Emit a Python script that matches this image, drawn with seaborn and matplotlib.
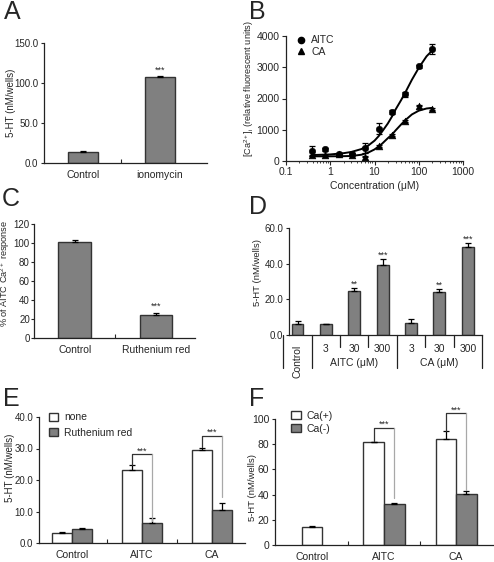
import numpy as np
import pandas as pd
import seaborn as sns
import matplotlib.pyplot as plt
import matplotlib.transforms as mtransforms
from matplotlib.patches import Patch
from matplotlib.lines import Line2D
from matplotlib.ticker import FormatStrFormatter, FixedLocator, NullFormatter, LogLocator

sns.set_style('ticks')
plt.rcParams['font.family'] = ['Liberation Sans', 'DejaVu Sans']
plt.rcParams['mathtext.fontset'] = 'custom'
plt.rcParams['mathtext.rm'] = 'Liberation Sans'
plt.rcParams['mathtext.it'] = 'Liberation Sans:italic'
plt.rcParams['axes.linewidth'] = 0.9
plt.rcParams['axes.edgecolor'] = '#222222'

GREY = '#808080'
EDGE = '#333333'

# ---------------- data ----------------
# A: 5-HT release, ionomycin
a_groups = ['Control', 'ionomycin']
a_vals = [13.8, 107.5]
a_err = [1.6, 1.2]
a_stars = ['', '***']

# B: Ca2+ dose response
b_conc = [0.39, 0.78, 1.56, 3.125, 6.25, 12.5, 25, 50, 100, 200]
b_aitc = [320, 375, 215, 215, 430, 1040, 1580, 2130, 3030, 3580]
b_aitc_err = [160, 40, 30, 30, 160, 190, 60, 80, 40, 160]
b_ca = [185, 185, 215, 195, 140, 485, 830, 1290, 1775, 1665]
b_ca_err = [20, 20, 20, 20, 20, 30, 30, 30, 30, 30]
b_fit_conc = [0.39, 1, 2, 3, 5, 7, 10, 12.5, 15, 20, 25, 30, 40, 50, 70, 100, 150, 200]
b_fit_aitc = [190, 210, 250, 290, 380, 480, 650, 800, 950, 1200, 1430, 1650, 1950, 2200, 2600, 2980, 3350, 3530]
b_fit_ca = [150, 150, 155, 160, 200, 260, 370, 470, 560, 730, 850, 980, 1170, 1310, 1490, 1610, 1680, 1700]

# C: ruthenium red on AITC Ca2+ response
c_groups = ['Control', 'Ruthenium red']
c_vals = [101.0, 24.7]
c_err = [2.4, 2.1]
c_stars = ['', '***']

# D: 5-HT release, AITC / CA doses
d_keys = ['Control', 'AITC 3', 'AITC 30', 'AITC 300', 'CA 3', 'CA 30', 'CA 300']
d_dose_labels = ['', '3', '30', '300', '3', '30', '300']
d_vals = [6.4, 6.0, 24.8, 39.5, 6.6, 23.9, 49.6]
d_err = [1.5, 0.4, 1.5, 3.2, 2.6, 1.9, 1.9]
d_stars = ['', '', '**', '***', '', '**', '***']
d_group_names = ['AITC (\u03bcM)', 'CA (\u03bcM)']

# E: ruthenium red on 5-HT release
e_groups = ['Control', 'AITC', 'CA']
e_levels = ['none', 'Ruthenium red']
e_none = [3.2, 23.2, 29.6]
e_none_err = [0.3, 1.5, 0.7]
e_rr = [4.3, 6.5, 10.6]
e_rr_err = [0.6, 1.3, 2.0]
e_brk_top = [28.2, 34.0]
e_brk_left_end = [24.8, 30.4]
e_brk_right_end = [7.0, 14.6]

# F: extracellular Ca2+ dependence
f_groups = ['Control', 'AITC', 'CA']
f_levels = ['Ca(+)', 'Ca(-)']
f_plus = [14.3, 81.5, 83.9]
f_plus_err = [0.5, 0.6, 6.6]
f_minus = [np.nan, 32.8, 40.5]
f_minus_err = [np.nan, 0.4, 2.4]
f_brk_top = [93.1, 104.5]
f_brk_left_end = [82.2, 90.6]
f_brk_right_end = [37.0, 43.7]

# ---------------- layout helpers ----------------
W, H = 494, 562
fig = plt.figure(figsize=(W / 100, H / 100), dpi=100)


def px_rect(left, right, top, bottom):
    return [left / W, 1 - bottom / H, (right - left) / W, (bottom - top) / H]


def letter(x, y, s):
    fig.text(x / W, 1 - y / H, s, fontsize=18, ha='left', va='top')


def up_errors(ax, xs, ys, errs, capsize=2.2):
    ax.errorbar(xs, ys, yerr=[np.zeros(len(errs)), errs], fmt='none', ecolor='black',
                elinewidth=0.9, capsize=capsize, capthick=0.9, zorder=4)


def centers(bars):
    return [b.get_x() + b.get_width() / 2 for b in bars]


def style_bar_axes(ax, yticks, yfmt, ylabel, lab_x, lab_y, lab_size=7):
    sns.despine(ax=ax)
    ax.set_ylim(yticks[0], yticks[-1])
    ax.set_yticks(yticks)
    ax.yaxis.set_major_formatter(FormatStrFormatter(yfmt))
    ax.tick_params(axis='y', labelsize=7, length=2.5, width=0.8, pad=1.5, direction='out')
    ax.tick_params(axis='x', which='major', length=0, labelsize=7.5, pad=5)
    ax.tick_params(axis='x', which='minor', length=3, width=0.8, direction='in')
    ax.set_xlabel('')
    ax.set_ylabel(ylabel, fontsize=lab_size)
    ax.yaxis.set_label_coords(lab_x, lab_y)


def stars(ax, xs, tops, labels, dy=2.5):
    for x, t, s in zip(xs, tops, labels):
        if s:
            ax.annotate(s, xy=(x, t), xytext=(0, dy), textcoords='offset points',
                        ha='center', va='baseline', fontsize=6.5)


def bracket(ax, xl, xr, top, left_end, right_end):
    ax.plot([xl, xl, xr], [left_end, top, top], color='#333333', lw=0.9, clip_on=False, zorder=5)
    ax.plot([xr, xr], [top, right_end], color='#a8a8a8', lw=0.9, clip_on=False, zorder=5)
    ax.annotate('***', xy=((xl + xr) / 2, top), xytext=(0, 0.5), textcoords='offset points',
                ha='center', va='baseline', fontsize=6.5, annotation_clip=False)


# ---------------- A ----------------
axA = fig.add_axes(px_rect(44, 207, 43, 163))
dfA = pd.DataFrame({'group': a_groups, 'value': a_vals})
sns.barplot(data=dfA, x='group', y='value', color=GREY, saturation=1, width=0.4,
            edgecolor=EDGE, linewidth=1, errorbar=None, ax=axA)
barsA = axA.containers[0]
up_errors(axA, centers(barsA), a_vals, a_err)
stars(axA, centers(barsA), np.add(a_vals, a_err), a_stars)
axA.set_xlim(-0.506, 1.61)
axA.set_xticks([0.5], minor=True)
style_bar_axes(axA, [0, 50, 100, 150], '%.1f', '5-HT (nM/wells)', -0.17, 0.5)
letter(4, 0, 'A')

# ---------------- B ----------------
axB = fig.add_axes(px_rect(286, 463, 36, 161))
sns.lineplot(x=b_fit_conc, y=b_fit_aitc, color='black', lw=1.4, ax=axB, sort=True, errorbar=None)
sns.lineplot(x=b_fit_conc, y=b_fit_ca, color='black', lw=1.4, ax=axB, sort=True, errorbar=None)
axB.errorbar(b_conc, b_aitc, yerr=b_aitc_err, fmt='none', ecolor='black', elinewidth=0.9,
             capsize=2, capthick=0.9, zorder=3)
axB.errorbar(b_conc, b_ca, yerr=b_ca_err, fmt='none', ecolor='black', elinewidth=0.9,
             capsize=2, capthick=0.9, zorder=3)
sns.scatterplot(x=b_conc, y=b_aitc, marker='o', color='black', s=22, edgecolor='black', ax=axB, zorder=4)
sns.scatterplot(x=b_conc, y=b_ca, marker='^', color='black', s=24, edgecolor='black', ax=axB, zorder=4)
axB.set_xscale('log')
axB.set_xlim(0.1, 1000)
axB.set_ylim(0, 4000)
axB.xaxis.set_major_locator(FixedLocator([0.1, 1, 10, 100, 1000]))
axB.set_xticklabels(['0.1', '1', '10', '100', '1000'])
axB.xaxis.set_minor_locator(LogLocator(base=10, subs=np.arange(2, 10)))
axB.xaxis.set_minor_formatter(NullFormatter())
axB.set_yticks([0, 1000, 2000, 3000, 4000])
sns.despine(ax=axB)
axB.tick_params(axis='both', which='major', labelsize=7.5, length=3, width=0.8, pad=1.5)
axB.tick_params(axis='x', which='minor', length=1.5, width=0.6)
axB.set_xlabel('Concentration (\u03bcM)', fontsize=7.5, labelpad=3)
axB.set_ylabel(r'[Ca$^{2+}$]$_{\rm i}$ (relative fluorescent units)', fontsize=6.6)
axB.yaxis.set_label_coords(-0.172, 0.58)
legB = [Line2D([], [], marker='o', color='black', ls='none', markersize=4.5, label='AITC'),
        Line2D([], [], marker='^', color='black', ls='none', markersize=5, label='CA')]
axB.legend(handles=legB, loc='upper left', bbox_to_anchor=(0.03, 1.04), frameon=False,
           fontsize=7.5, handlelength=1, handletextpad=0.5, labelspacing=0.15, borderaxespad=0)
letter(249, 0, 'B')

# ---------------- C ----------------
axC = fig.add_axes(px_rect(34, 195, 224, 338))
dfC = pd.DataFrame({'group': c_groups, 'value': c_vals})
sns.barplot(data=dfC, x='group', y='value', color=GREY, saturation=1, width=0.4,
            edgecolor=EDGE, linewidth=1, errorbar=None, ax=axC)
barsC = axC.containers[0]
up_errors(axC, centers(barsC), c_vals, c_err)
stars(axC, centers(barsC), np.add(c_vals, c_err), c_stars, dy=3)
axC.set_xlim(-0.5, 1.48)
axC.set_xticks([0.5], minor=True)
style_bar_axes(axC, [0, 20, 40, 60, 80, 100, 120], '%d', r'% of AITC Ca$^{2+}$ response',
               -0.135, 0.57, lab_size=6.6)
axC.tick_params(axis='y', labelsize=7, length=2, pad=1)
letter(2, 187, 'C')

# ---------------- D ----------------
axD = fig.add_axes(px_rect(289, 482, 228, 335))
dfD = pd.DataFrame({'key': d_keys, 'value': d_vals})
sns.barplot(data=dfD, x='key', y='value', color=GREY, saturation=1, width=0.42,
            edgecolor=EDGE, linewidth=1, errorbar=None, ax=axD)
barsD = axD.containers[0]
up_errors(axD, centers(barsD), d_vals, d_err, capsize=2)
stars(axD, centers(barsD), np.add(d_vals, d_err), d_stars, dy=0.8)
axD.set_xlim(-0.3, 6.5)
style_bar_axes(axD, [0, 20, 40, 60], '%.1f', '5-HT (nM/wells)', -0.14, 0.58, lab_size=6.8)
axD.set_xticks([])
tD = mtransforms.blended_transform_factory(axD.transData, axD.transAxes)
for i, lab in enumerate(d_dose_labels):
    if lab:
        axD.text(i, -0.13, lab, transform=tD, ha='center', va='center', fontsize=7.5)
axD.text(0, -0.09, d_keys[0], transform=tD, ha='center', va='top', rotation=90, fontsize=7.5)
for gi, name in enumerate(d_group_names):
    axD.text(2 + 3 * gi, -0.26, name, transform=tD, ha='center', va='center', fontsize=7.5)
for xs in [-0.5, 0.5, 3.5, 6.5]:
    axD.plot([xs, xs], [0, -0.31], transform=tD, color='#222222', lw=0.9, clip_on=False)
for xs in [1.5, 2.5, 4.5, 5.5]:
    axD.plot([xs, xs], [0, -0.11], transform=tD, color='#222222', lw=0.9, clip_on=False)
letter(249, 195, 'D')


# ---------------- E & F (paired bars) ----------------
def paired(ax, groups, levels, first, first_err, second, second_err, width):
    df = pd.DataFrame({'group': groups * 2,
                       'cond': [levels[0]] * len(groups) + [levels[1]] * len(groups),
                       'value': list(first) + list(second)}).dropna()
    sns.barplot(data=df, x='group', y='value', hue='cond', hue_order=levels,
                palette=['white', GREY], saturation=1, width=width, edgecolor=EDGE,
                linewidth=1, errorbar=None, legend=False, ax=ax)
    pos = {}
    for li, (cont, vals, errs) in enumerate(zip(ax.containers, [first, second],
                                                 [first_err, second_err])):
        xs, ys, es = [], [], []
        for bar in cont:
            h = bar.get_height()
            if not np.isfinite(h):
                continue
            gi = int(round(bar.get_x() + bar.get_width() / 2))
            # single bar in a group is centred on the group
            if not np.isfinite(vals[gi] if li else second[gi]):
                bar.set_x(gi - bar.get_width() / 2)
            xs.append(bar.get_x() + bar.get_width() / 2)
            ys.append(vals[gi])
            es.append(errs[gi])
            pos[(gi, li)] = xs[-1]
        up_errors(ax, xs, ys, es)
    return pos


axE = fig.add_axes(px_rect(39, 245, 417, 543))
posE = paired(axE, e_groups, e_levels, e_none, e_none_err, e_rr, e_rr_err, 0.56)
for k, gi in enumerate([1, 2]):
    bracket(axE, posE[(gi, 0)], posE[(gi, 1)], e_brk_top[k], e_brk_left_end[k], e_brk_right_end[k])
axE.set_xlim(-0.47, 2.47)
axE.set_xticks([0.5, 1.5], minor=True)
style_bar_axes(axE, [0, 10, 20, 30, 40], '%.1f', '5-HT (nM/wells)', -0.115, 0.6)
axE.legend(handles=[Patch(facecolor='white', edgecolor=EDGE, label=e_levels[0]),
                    Patch(facecolor=GREY, edgecolor=EDGE, label=e_levels[1])],
           loc='upper left', bbox_to_anchor=(0.03, 1.07), frameon=False, fontsize=7.5,
           handlelength=0.8, handleheight=0.8, handletextpad=0.6, labelspacing=0.5,
           borderaxespad=0)
letter(3, 387, 'E')

axF = fig.add_axes(px_rect(275, 493, 419, 545))
posF = paired(axF, f_groups, f_levels, f_plus, f_plus_err, f_minus, f_minus_err, 0.57)
for k, gi in enumerate([1, 2]):
    bracket(axF, posF[(gi, 0)], posF[(gi, 1)], f_brk_top[k], f_brk_left_end[k], f_brk_right_end[k])
axF.set_xlim(-0.51, 2.51)
axF.set_xticks([0.5, 1.5], minor=True)
style_bar_axes(axF, [0, 20, 40, 60, 80, 100], '%d', '5-HT (nM/wells)', -0.082, 0.46, lab_size=6.8)
axF.tick_params(axis='y', labelsize=7.5)
axF.legend(handles=[Patch(facecolor='white', edgecolor=EDGE, label=f_levels[0]),
                    Patch(facecolor=GREY, edgecolor=EDGE, label=f_levels[1])],
           loc='upper left', bbox_to_anchor=(0.055, 1.1), frameon=False, fontsize=7.5,
           handlelength=0.9, handleheight=0.9, handletextpad=0.6, labelspacing=0.3,
           borderaxespad=0)
letter(249, 387, 'F')

fig.savefig('out.png', dpi=100)
